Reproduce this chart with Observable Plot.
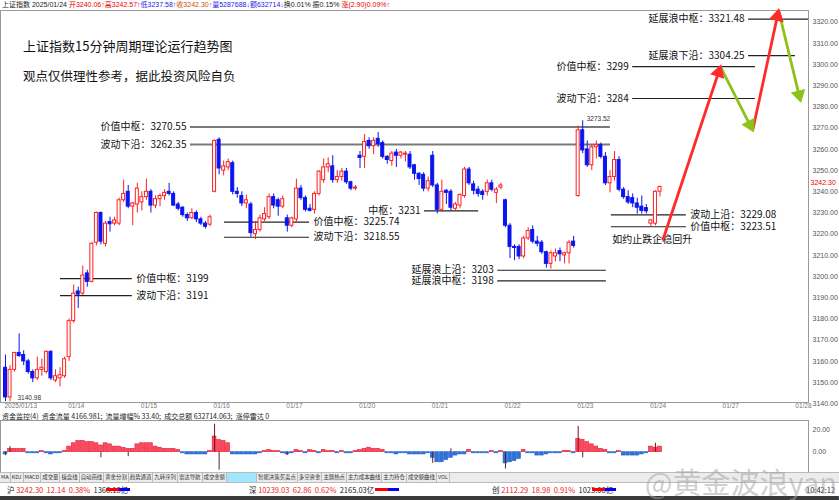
<!DOCTYPE html>
<html><head><meta charset="utf-8">
<script src="https://cdn.jsdelivr.net/npm/d3@7"></script>
<script src="https://cdn.jsdelivr.net/npm/@observablehq/plot@0.6"></script>
<style>
body{margin:0;width:839px;height:500px;position:relative;overflow:hidden;background:#fff;font-family:"Noto Sans CJK SC","Noto Sans",sans-serif}
.abs{position:absolute;white-space:nowrap}
#info{left:2px;top:0px;font-size:7px;line-height:9px;font-family:"Liberation Sans","Noto Sans CJK SC";color:#222}
.r{color:#e00}.b{color:#2222ee}.o{color:#d05000}
.title{left:23px;font-size:13px;color:#111}
#hdr{left:2px;top:412px;font-size:7px;line-height:9px;color:#222}
#tabs{left:0;top:472px;width:839px;height:9px;background:#ececec;border-top:1px solid #bbb;border-bottom:1px solid #bbb;font-size:5.4px;line-height:9px;display:flex}
#tabs span{padding:0 1px;border-right:1px solid #bbb;color:#333}
#tabs span.sel{background:#9fe6ff;color:#9fe6ff}
#status{left:0;top:483px;width:839px;height:13px;font-size:7.5px;line-height:13px}
#status .s{position:absolute;top:0;color:#e22}
#status .bar{position:absolute;top:5px;height:3px;width:24px;background:linear-gradient(90deg,#f00 55%,#00f 55%)}
#foot{left:0;top:496px;width:839px;height:4px;background:#3a3a3a}
#wm{left:645px;top:460px;font-size:29px;color:rgba(165,165,165,0.55)}
</style></head>
<body>
<div id="main" class="abs" style="left:0;top:0"></div>
<div id="lower" class="abs" style="left:0;top:411px"></div>
<div id="info" class="abs">上证指数 2025/01/24 <span class="r">开3240.06↑高3242.57↑</span><span class="b">低3237.58↑</span><span class="o">收3242.30↑</span><span class="b">量5287688↓额632714↓</span>换0.01% 振0.15% <span class="r">涨(2.90)0.09%↑</span></div>
<div class="abs title" style="top:36px">上证指数15分钟周期理论运行趋势图</div>
<div class="abs title" style="top:66px;font-size:12.5px">观点仅供理性参考，据此投资风险自负</div>
<div id="hdr" class="abs">资金监控(4)&nbsp; 资金流量 4166.981;&nbsp; 流量增幅% 33.40;&nbsp; 成交总额 632714.063;&nbsp; 涨停雷达 0</div>
<div id="tabs" class="abs"><span>MA</span><span>KDJ</span><span>MACD</span><span>成交量</span><span>操盘线</span><span>自动画线</span><span>黄金分割</span><span>趋势通道</span><span>九转序列</span><span>雷达导航</span><span>成交金额</span><span class="sel">资金监控中</span><span>智能决策买卖点</span><span>多空资金</span><span>主题热点</span><span>主力成本曲线</span><span>主力持仓</span><span>成交额曲线</span><span>VOL</span></div>
<div id="status" class="abs">
<span class="s" style="left:7px"><span style="color:#222">沪</span> 3242.30&nbsp; 12.14&nbsp; 0.38%&nbsp; <span style="color:#222">1366.18亿</span></span><span class="bar" style="left:106px"></span>
<span class="s" style="left:249px"><span style="color:#222">深</span> 10239.03&nbsp; 62.86&nbsp; 0.62%&nbsp; <span style="color:#222">2165.03亿</span></span><span class="bar" style="left:375px"></span>
<span class="s" style="left:492px"><span style="color:#222">创</span> 2112.29&nbsp; 18.98&nbsp; 0.91%&nbsp; <span style="color:#222">1023.08亿</span></span><span class="bar" style="left:592px"></span>
<span class="s" style="left:806px;color:#222">10:42:12</span>
</div>
<div id="foot" class="abs"></div>
<div id="wm" class="abs">@黄金波浪yang</div>
<script>
// ---------- data ----------
const open = [
3157,3143,3156,3164,3163,3160,3155,3152,3156,3155,3164.5,3151,3152,3153,
3162,3179,3193,3192,3201.5,3197.5,3216,3230,3215.5,3225.7,3225,3225,3236,3240,3233,3234,
3235,3237.5,3240,3233.5,3236.5,3238,3240,3239,3234,3232.5,3229,3227.5,3230,3227,3225,3224.5,
3240,3264.5,3250,3251.5,3253.5,3240,3238,3234.5,3234,3220,3222,3227,3228,3237.5,3236,3233,
3227.5,3224,3227,3241.5,3237,3232,3231.5,3239,3245.5,3251.5,3252,3245.5,3247,3249.5,3244.5,3241.5,
3257,3256.5,3264,3261.5,3265,3263,3256.5,3254.5,3258.5,3257,3257.5,3257.5,3252.5,3248.5,3248,3241.5,
3257,3243,3231.5,3240.5,3240,3232,3233.5,3238,3250.5,3243.5,3241,3240,3240,3244,3239.5,3242,
3236,3224,3214,3214,3209.5,3218,3222,3216.5,3216,3211.5,3206,3209.5,3212,3210,3211,3216.5,
3238,3269,3260,3252.5,3261,3262,3256.5,3244,3247,3255,3241,3237.5,3237,3234.5,3233,3232.3,
3225,3225,3240.06];
const high = [
3163,3158,3164,3173,3165,3161,3156,3162,3161,3165,3165,3156,3157,3162,
3180,3196,3195,3205,3203,3216,3230.5,3230.5,3226,3228,3228,3237,3245.5,3243,3235,3244,
3240,3246,3241,3238,3239,3241,3244,3240,3235,3233,3230,3232,3231,3228,3226,3229,
3264.5,3265.5,3254.5,3255.5,3254.5,3242,3240,3238.5,3235,3226,3229,3232.5,3239,3239,3237,3238,
3229,3228,3246,3243,3238,3234,3240,3250,3255.5,3256,3257,3250,3251,3251,3245,3243,
3259,3267,3265.5,3265.5,3268,3264,3257,3259,3260,3259,3259,3259,3253,3249,3249,3247,
3259,3244,3245.5,3241,3241,3235,3239,3251.5,3251.5,3245,3242.5,3241,3245.5,3245.5,3242,3244,
3236.5,3225,3215,3215,3219,3223,3224,3219,3217,3212,3212,3213,3213.5,3211.5,3217,3219,
3271,3273.52,3264,3262,3264,3263,3258.5,3250,3259,3256.5,3242,3240.5,3239,3237,3238,3234,
3227,3240.5,3242.57];
const low = [
3140.98,3141,3155,3162,3158,3154,3150,3151,3153,3154,3151,3150,3148,3152,
3160,3178,3185,3191,3195,3197,3214.5,3215,3214,3221,3224,3224,3235,3232,3224,3230,
3231,3236,3230,3232,3233,3236,3238,3233,3231,3228,3226,3227,3225.5,3224,3222.5,3223.5,
3239.5,3248,3247.5,3250,3238.5,3237,3233,3232,3218.55,3217.5,3221,3226,3227,3232,3228.5,3232,
3221,3223,3225.5,3236,3230.5,3230.5,3229.5,3238,3244,3249,3244,3244,3245,3243.5,3240.5,3240.5,
3251,3251,3260,3257.5,3261,3255.5,3253,3252,3251.5,3255.5,3254,3250.5,3245.5,3243,3240,3240,
3242,3229.5,3230.5,3234,3231,3231,3232,3237,3243,3238.5,3237.5,3236,3238,3240,3234.5,3241,
3223,3208.5,3207.5,3208,3208.5,3217,3215.5,3214,3210.5,3204,3203.5,3207,3207,3206,3206,3213.5,
3237.5,3258,3251.5,3250,3255.5,3255.5,3243,3239.5,3245,3240,3236.5,3234,3232.5,3229.5,3229.5,3229.5,
3223.51,3224,3237.58];
const close = [
3143,3156,3164,3162.5,3160,3155,3152,3156,3157,3164.5,3152,3153,3153.5,3161,
3179,3192,3191.5,3200.5,3197.5,3215.5,3230,3216.5,3225,3224.7,3226.5,3236,3239,3233,3234.5,3241.5,
3237.5,3240,3233.5,3236.5,3238,3239.5,3239,3233.5,3232,3229,3227.5,3230,3227,3225,3223.5,3228,
3264,3251,3252,3254,3240,3239,3234.5,3236,3220.5,3222,3227.5,3229.5,3237.5,3233.5,3233,3236.5,
3224,3227.5,3241.5,3237,3231.5,3231,3239,3249.5,3251.5,3253,3245.5,3247,3249.5,3244.5,3241.5,3242,
3256,3263.5,3261.5,3264,3262.5,3256.5,3255,3258,3257,3258.5,3258,3251.5,3248.5,3246,3241.5,3245,
3243,3231.5,3240,3239.5,3232.5,3234,3238.5,3250.5,3244,3240.5,3239,3238.5,3244,3241,3241,3243,
3224,3214,3213.5,3209.5,3218,3221.5,3216.5,3215.5,3211.5,3206,3211,3211,3210.5,3211,3216,3214.5,
3269,3259.5,3252.5,3261,3262,3256.5,3244,3247,3255,3241,3237.5,3235,3234.5,3232.5,3231,3230.8,
3226.5,3240,3242.30];
// money-flow indicator (lower panel)
const flow = [
-2,3,3,3,3,-1,-1,-1,1,-1,-2,-1,-1,1,
5,8,10,10,9,9,8,6,8,7,5,5,4,3,3,7,
8,8,8,5,4,3,3,3,2,-1,-2,-2,-2,-2,-2,1,
14,11,10,8,-2,-2,-2,-2,-2,-2,-1,1,2,1,1,-1,
-2,-1,2,1,-1,2,1,-1,2,1,1,-1,1,-1,-1,1,
2,3,4,3,3,2,-1,-1,-2,-1,-1,-2,-2,-2,-2,-1,
-5,-9,-9,-7,-5,-3,-2,-2,2,-1,-1,-1,-1,1,-1,1,
-10,-9,-8,-6,2,-1,-1,-3,-3,-2,-1,-1,-1,1,1,-1,
12,11,9,7,5,3,2,-1,-1,1,-3,-3,-3,-3,-2,-1,
5,4,5];
const spikeBar = [0,1,21,27,46,47,62,94,98,110,126,127,143];
const spikeVal = [-3,5,-5,-4,25,-16,-3,-10,3,-15,23,-5,8];

const dayLabels = ["2025/01/13","01/14","01/15","01/16","01/17","01/20","01/21","01/22","01/23","01/24","01/27","01/28"];
const dayStart  = [0,14,30,46,62,78,94,110,126,142,158,174];

const levelValue = [3270.55,3262.35,3199,3191,3225.74,3218.55,3231,3203,3198,3229.08,3223.51,3321.48,3304.25,3299,3284];
const levelName  = ["价值中枢","波动下沿","价值中枢","波动下沿","价值中枢","波动下沿","中枢","延展浪上沿","延展浪中枢","波动上沿","价值中枢","延展浪中枢","延展浪下沿","价值中枢","波动下沿"];
const levelFrom  = [40.7,40.7,12.1,12.1,48.2,48.2,92.2,108.3,108.3,133.3,133.3,163.5,163.5,138,138];
const levelTo    = [133.1,133.1,27.9,27.9,66.9,66.9,104.1,132.2,132.2,149.8,149.8,176.7,173.8,165,165];
const levelSide  = ["L","L","R","R","R","R","L","L","L","R","R","L","L","L","L"];

// projected wave path (bar index, price)
const waveBar   = [144.6,157.3,164.4,170.1,174.9];
const wavePrice = [3217,3299,3269,3325.5,3283];

const noteText = ["如约止跌企稳回升"];
const noteBar = [133.5];
const notePrice = [3217.5];

// ---------- build ----------
const RED = "#ff2020", BLUE = "#0a14f0";
const bars = open.map((o,i)=>({i, o, h: Math.max(high[i],o,close[i]), l: Math.min(low[i],o,close[i]), c: close[i], up: close[i] >= o}));
const levels = levelValue.map((v,k)=>({v, a: levelFrom[k], b: levelTo[k], side: levelSide[k],
  label: levelName[k] + "：" + String(v), strong: k < 2}));
const yTicks = d3.range(3140, 3321, 10);
const font = "Noto Sans CJK SC";

const xScale = {domain: [0, 144], range: [5, 5 + 144*4.545]};
const yScale = {domain: [3140, 3320], range: [403.3, 21.7]};
const sx = Plot.scale({x: xScale}), sy = Plot.scale({y: yScale});

// wave segments, with screen-space angle for the filled arrow heads
const waves = waveBar.slice(1).map((b,k)=>{
  const px1 = sx.apply(waveBar[k]), py1 = sy.apply(wavePrice[k]);
  const px2 = sx.apply(b), py2 = sy.apply(wavePrice[k+1]);
  const len = Math.hypot(px2-px1, py2-py1), back = 6 / len;
  return {x1: waveBar[k], y1: wavePrice[k], x2: b, y2: wavePrice[k+1],
    hx: sx.invert(px2 - (px2-px1)*back), hy: sy.invert(py2 - (py2-py1)*back),
    ex: sx.invert(px2 - (px2-px1)*(9/len)), ey: sy.invert(py2 - (py2-py1)*(9/len)),
    angle: Math.atan2(px2-px1, -(py2-py1)) * 180 / Math.PI,
    up: wavePrice[k+1] > wavePrice[k]};
});
const waveColor = d => d.up ? "#ff2a2a" : "#8cc21a";

const main = Plot.plot({
  width: 839, height: 412, marginLeft: 0, marginRight: 31, marginTop: 10, marginBottom: 10,
  style: {overflow: "visible", background: "transparent"},
  x: {...xScale, axis: null},
  y: {...yScale, axis: null},
  marks: [
    Plot.frame({stroke: "#9a9a9a", strokeWidth: 1}),
    // right axis
    Plot.text(yTicks, {y: d=>d, frameAnchor: "right", dx: 4, textAnchor: "start", text: d=>d.toFixed(2), fontSize: 7, fill: "#555", fontFamily: "Liberation Sans"}),
    Plot.text([3242.30], {y: d=>d, frameAnchor: "right", dx: 2, dy: -4, textAnchor: "start", text: d=>d.toFixed(2), fontSize: 7, fill: "#e00", fontFamily: "Liberation Sans"}),
    // date strip
    Plot.text(dayLabels, {x: (d,k)=>dayStart[k], frameAnchor: "bottom", dy: 5, dx: -1, textAnchor: "start", text: d=>d, fontSize: 6.5, fill: "#777", fontFamily: "Liberation Sans"}),
    // level lines
    Plot.ruleY(levels, {y: "v", x1: "a", x2: "b", stroke: d=>d.strong ? "#7a7a7a" : "#222", strokeWidth: d=>d.strong ? 2 : 1.2}),
    Plot.text(levels.filter(d=>d.side==="L"), {x: "a", y: "v", text: "label", textAnchor: "end", dx: -4, fontSize: 10, fill: "#111", fontFamily: font}),
    Plot.text(levels.filter(d=>d.side==="R"), {x: "b", y: "v", text: "label", textAnchor: "start", dx: 4, fontSize: 10, fill: "#111", fontFamily: font}),
    // candles
    Plot.ruleX(bars, {x: "i", y1: "l", y2: "h", stroke: d=>d.up ? RED : BLUE, strokeWidth: 1}),
    Plot.rect(bars, {x1: d=>d.i-0.33, x2: d=>d.i+0.33,
      y1: d=>Math.min(d.o,d.c), y2: d=>Math.max(Math.max(d.o,d.c), Math.min(d.o,d.c)+0.35),
      fill: d=>d.up ? "white" : BLUE, stroke: d=>d.up ? RED : BLUE, strokeWidth: 1}),
    // extremes
    Plot.text([bars[127]], {x: "i", y: "h", text: d=>d.h.toFixed(2), dx: 4, dy: -2, textAnchor: "start", fontSize: 6.5, fill: "#333", fontFamily: "Liberation Sans"}),
    Plot.text([bars[0]], {x: "i", y: "l", text: d=>d.l.toFixed(2), dx: 12, dy: -4, textAnchor: "start", fontSize: 6.5, fill: "#333", fontFamily: "Liberation Sans"}),
    // note
    Plot.text(noteText, {x: (d,k)=>noteBar[k], y: (d,k)=>notePrice[k], text: d=>d, textAnchor: "start", fontSize: 10, fill: "#111", fontFamily: font}),
    // projected waves
    Plot.link(waves, {x1: "x1", y1: "y1", x2: "ex", y2: "ey", stroke: waveColor, strokeWidth: 2.8}),
    Plot.dot(waves, {x: "hx", y: "hy", symbol: "triangle", rotate: "angle", r: 5.5, fill: waveColor, stroke: "none"})
  ]
});
document.getElementById("main").append(main);

const flowData = flow.map((v,i)=>({i, v}));
const spikes = spikeBar.map((b,k)=>({i: b, v: spikeVal[k]}));
const lower = Plot.plot({
  width: 839, height: 61, marginLeft: 0, marginRight: 31, marginTop: 9, marginBottom: 0,
  style: {overflow: "visible", background: "transparent"},
  x: {...xScale, axis: null},
  y: {domain: [0, 20], range: [40.7, 18.3], axis: null},
  marks: [
    Plot.frame({stroke: "#9a9a9a", strokeWidth: 1}),
    Plot.text([20, 0, -20], {y: d=>d, frameAnchor: "right", dx: 4, textAnchor: "start", text: d=>d.toFixed(2), fontSize: 7, fill: "#555", fontFamily: "Liberation Sans"}),
    Plot.rect(flowData, {x1: d=>d.i-0.42, x2: d=>d.i+0.42, y1: 0, y2: "v", fill: d=>d.v>=0 ? "#ff4a5e" : "#2f73d8", stroke: d=>d.v>=0 ? "#e0203a" : "#2060c8", strokeWidth: 0.6}),
    Plot.ruleX(spikes, {x: "i", y1: 0, y2: "v", stroke: d=>d.v>=0 ? "#7a1020" : "#5a2030", strokeWidth: 1})
  ]
});
document.getElementById("lower").append(lower);
</script>
</body></html>
